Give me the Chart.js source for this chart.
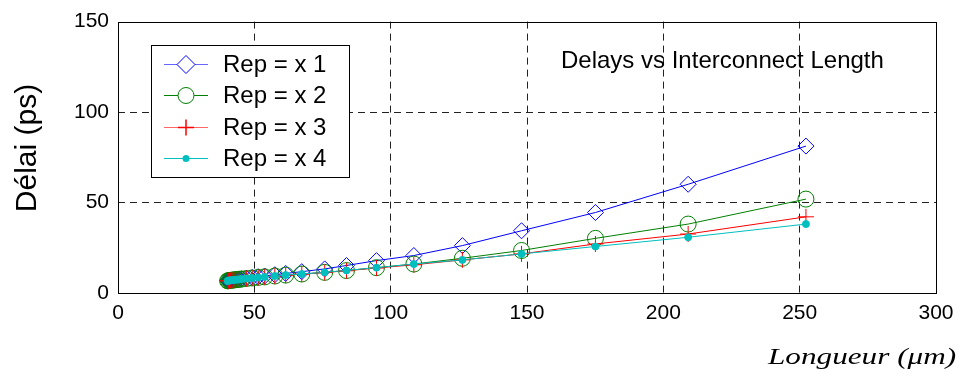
<!DOCTYPE html>
<html>
<head>
<meta charset="utf-8">
<script src="https://cdn.jsdelivr.net/npm/chart.js@4/dist/chart.umd.min.js"></script>
<style>
  html, body { margin: 0; padding: 0; background: #fff; }
  #wrap { width: 962px; height: 376px; }
</style>
</head>
<body>
<div id="wrap"><canvas id="chart" width="962" height="376"></canvas></div>
<script>
"use strict";

// interconnect lengths (um), shared by all four curves
const lengths = [40.2, 40.5, 40.9, 41.3, 41.8, 42.4, 43.0, 43.8, 44.5, 45.3, 47.1, 49.2, 51.4,
  53.8, 57.5, 61.5, 67.4, 75.8, 83.8, 94.8, 108.5, 126.3, 148.0, 175.1, 209.1, 252.3];

// delays (ps) for each repeater sizing
const rep1 = [6.8, 6.9, 7.0, 7.1, 7.2, 7.3, 7.4, 7.6, 7.7, 7.9, 8.2, 8.6, 9.0,
  9.4, 10.1, 10.8, 11.8, 13.3, 15.2, 17.9, 20.7, 26.2, 34.4, 44.5, 60.1, 81.2];
const rep2 = [6.7, 6.8, 6.9, 7.0, 7.1, 7.2, 7.3, 7.5, 7.6, 7.7, 8.0, 8.3, 8.6,
  8.9, 9.4, 9.9, 10.5, 11.4, 12.4, 14.0, 16.0, 19.2, 23.5, 30.2, 38.1, 51.9];
const rep3 = [6.7, 6.8, 6.9, 7.0, 7.1, 7.2, 7.3, 7.4, 7.5, 7.7, 8.0, 8.3, 8.5,
  8.9, 9.3, 9.8, 10.4, 11.3, 12.3, 13.8, 15.6, 18.3, 21.6, 27.1, 32.6, 42.1];
const rep4 = [6.7, 6.8, 6.9, 7.0, 7.1, 7.2, 7.3, 7.4, 7.5, 7.7, 8.0, 8.3, 8.6,
  8.9, 9.4, 9.9, 10.5, 11.4, 12.5, 14.0, 16.0, 18.3, 21.6, 25.7, 30.8, 38.1];

const seriesNames = ['Rep = x 1', 'Rep = x 2', 'Rep = x 3', 'Rep = x 4'];
const xTicks = [0, 50, 100, 150, 200, 250, 300];
const yTicks = [0, 50, 100, 150];

const colors = ['#0000ff', '#008000', '#ff0000', '#00bfbf'];
const styles = ['rectRot', 'circle', 'cross', 'circle'];
const radii = [8, 8, 8, 3.5];
const fills = ['rgba(0,0,0,0)', 'rgba(0,0,0,0)', 'rgba(0,0,0,0)', '#00bfbf'];

function pairs(ys) {
  return lengths.map((x, i) => ({ x: x, y: ys[i] }));
}

const datasets = [rep1, rep2, rep3, rep4].map((ys, i) => ({
  label: seriesNames[i],
  data: pairs(ys),
  showLine: true,
  borderColor: colors[i],
  borderWidth: 1,
  pointStyle: styles[i],
  pointRadius: radii[i],
  pointBorderWidth: 1,
  pointBackgroundColor: fills[i],
  pointBorderColor: colors[i],
  order: 4 - i
}));

// draw one legend marker by hand
function marker(ctx, i, x, y) {
  ctx.save();
  ctx.strokeStyle = colors[i];
  ctx.fillStyle = colors[i];
  ctx.lineWidth = 1;
  ctx.beginPath();
  if (i === 0) {
    ctx.moveTo(x, y - 9); ctx.lineTo(x + 9, y); ctx.lineTo(x, y + 9); ctx.lineTo(x - 9, y); ctx.closePath();
    ctx.fillStyle = '#fff'; ctx.fill(); ctx.stroke();
  } else if (i === 1) {
    ctx.arc(x, y, 8, 0, Math.PI * 2);
    ctx.fillStyle = '#fff'; ctx.fill(); ctx.stroke();
  } else if (i === 2) {
    ctx.moveTo(x - 8, y); ctx.lineTo(x + 8, y); ctx.moveTo(x, y - 8); ctx.lineTo(x, y + 8);
    ctx.lineWidth = 1.5; ctx.stroke();
  } else {
    ctx.arc(x, y, 3.5, 0, Math.PI * 2);
    ctx.fill();
  }
  ctx.restore();
}

const extras = {
  id: 'extras',
  afterDraw(chart) {
    const ctx = chart.ctx;
    const a = chart.chartArea;

    // plot box
    ctx.save();
    ctx.strokeStyle = '#000';
    ctx.lineWidth = 1;
    ctx.strokeRect(Math.round(a.left) + 0.5, Math.round(a.top) + 0.5,
      Math.round(a.right - a.left), Math.round(a.bottom - a.top));

    // legend box
    ctx.fillStyle = '#fff';
    ctx.fillRect(151, 45, 198, 132);
    ctx.strokeRect(151.5, 45.5, 198, 132);
    const rows = [64, 95, 127, 158];
    ctx.font = '24px "Liberation Sans", Arial, sans-serif';
    ctx.textBaseline = 'middle';
    ctx.textAlign = 'left';
    rows.forEach((ry, i) => {
      ctx.strokeStyle = colors[i];
      ctx.globalAlpha = i === 0 || i === 2 ? 0.6 : 1;
      ctx.beginPath();
      ctx.moveTo(164, ry + 0.5);
      ctx.lineTo(208, ry + 0.5);
      ctx.stroke();
      ctx.globalAlpha = 1;
      marker(ctx, i, 186, ry + 0.5);
      ctx.fillStyle = '#000';
      ctx.fillText(seriesNames[i], 223, ry + 1);
    });

    // inner title
    ctx.font = '24px "Liberation Sans", Arial, sans-serif';
    ctx.fillText('Delays vs Interconnect Length', 561, 61);

    // y axis title
    ctx.save();
    ctx.translate(28, 148);
    ctx.rotate(-Math.PI / 2);
    ctx.textAlign = 'center';
    ctx.font = '30px "Liberation Sans", Arial, sans-serif';
    ctx.fillText('Délai (ps)', 0, 0);
    ctx.restore();

    // x axis title, stretched like the source
    ctx.save();
    ctx.translate(768, 358);
    ctx.scale(1.3, 1);
    ctx.font = 'italic 24px "Liberation Serif", "Times New Roman", serif';
    ctx.textAlign = 'left';
    ctx.fillText('Longueur (\u03bcm)', 0, 0);
    ctx.restore();
    ctx.restore();
  }
};

function edgeColor(maxVal) {
  return (c) => (c.tick && (c.tick.value === 0 || c.tick.value === maxVal)) ? 'rgba(0,0,0,0)' : '#222';
}

new Chart(document.getElementById('chart'), {
  type: 'scatter',
  data: { datasets: datasets },
  options: {
    responsive: false,
    animation: false,
    layout: { padding: { left: 0, right: 26, top: 20, bottom: 0 } },
    plugins: { legend: { display: false }, tooltip: { enabled: false } },
    scales: {
      x: {
        type: 'linear',
        min: 0, max: 300,
        afterBuildTicks: (s) => { s.ticks = xTicks.map(v => ({ value: v })); },
        afterFit: (s) => { s.height = 83; },
        ticks: { color: '#000', padding: 8, font: { size: 21, family: '"Liberation Sans", Arial, sans-serif' } },
        grid: { color: edgeColor(300), lineWidth: 1, drawTicks: false },
        border: { display: false, dash: [7, 5] }
      },
      y: {
        type: 'linear',
        min: 0, max: 150,
        afterBuildTicks: (s) => { s.ticks = yTicks.map(v => ({ value: v })); },
        afterFit: (s) => { s.width = 118; },
        ticks: { color: '#000', padding: 9, font: { size: 21, family: '"Liberation Sans", Arial, sans-serif' } },
        grid: { color: edgeColor(150), lineWidth: 1, drawTicks: false },
        border: { display: false, dash: [7, 5] }
      }
    }
  },
  plugins: [extras]
});
</script>
</body>
</html>
